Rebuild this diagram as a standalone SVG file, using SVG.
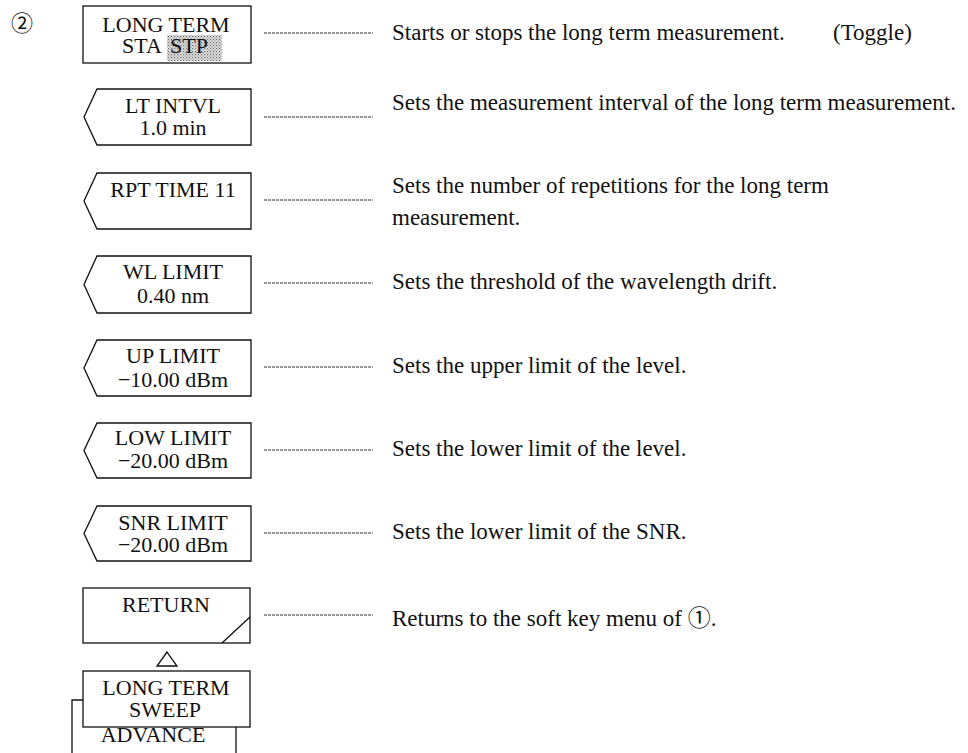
<svg xmlns="http://www.w3.org/2000/svg" width="968" height="753" viewBox="0 0 968 753">
<defs>
<pattern id="dots" width="3" height="3" patternUnits="userSpaceOnUse">
<rect width="3" height="3" fill="#e6e6e6"/>
<rect x="0" y="0" width="1.2" height="1.2" fill="#666"/>
<rect x="1.5" y="1.5" width="1.2" height="1.2" fill="#888"/>
</pattern>
</defs>
<style>
.box{fill:#fff;stroke:#111;stroke-width:1.3}
.t{font-family:"Liberation Serif","Times New Roman",serif;font-size:22px;fill:#111}
.c{text-anchor:middle}
.d{font-family:"Liberation Serif","Times New Roman","Noto Sans CJK JP",serif;font-size:23px;fill:#111}
.ln{stroke:#333;stroke-width:1;stroke-dasharray:3 1;fill:none}
.sl{stroke:#111;stroke-width:1.3;fill:none}
</style>
<rect width="968" height="753" fill="#fff"/>
<text x="22" y="31" text-anchor="middle" style="font-family:'Noto Sans CJK JP',sans-serif;font-size:22px;fill:#111">②</text>

<g id="node-longterm">
<rect class="box" x="83" y="6" width="168" height="57"/>
<rect x="167" y="35" width="55" height="26" fill="url(#dots)"/>
<text class="t c" x="166" y="32">LONG TERM</text>
<text class="t" x="122" y="53">STA</text>
<text class="t" x="170" y="53">STP</text>
</g>
<g id="node-ltintvl">
<path class="box" d="M97,89 H251 V145 H97 L84,117 Z"/>
<text class="t c" x="173" y="113">LT INTVL</text>
<text class="t c" x="173" y="135">1.0 min</text>
</g>
<g id="node-rpttime">
<path class="box" d="M97,173 H251 V229 H97 L84,201 Z"/>
<text class="t c" x="173" y="197">RPT TIME 11</text>
</g>
<g id="node-wllimit">
<path class="box" d="M97,256 H251 V313 H97 L84,284.5 Z"/>
<text class="t c" x="173" y="279">WL LIMIT</text>
<text class="t c" x="173" y="303">0.40 nm</text>
</g>
<g id="node-uplimit">
<path class="box" d="M97,340 H251 V396 H97 L84,368 Z"/>
<text class="t c" x="173" y="363">UP LIMIT</text>
<text class="t c" x="173" y="387">−10.00 dBm</text>
</g>
<g id="node-lowlimit">
<path class="box" d="M97,423 H251 V478 H97 L84,450.5 Z"/>
<text class="t c" x="173" y="445">LOW LIMIT</text>
<text class="t c" x="173" y="468">−20.00 dBm</text>
</g>
<g id="node-snrlimit">
<path class="box" d="M97,506 H251 V561 H97 L84,533.5 Z"/>
<text class="t c" x="173" y="530">SNR LIMIT</text>
<text class="t c" x="173" y="552">−20.00 dBm</text>
</g>
<g id="node-return">
<rect class="box" x="83" y="588" width="167" height="55"/>
<line class="sl" x1="222" y1="643" x2="250" y2="617"/>
<text class="t c" x="166" y="612">RETURN</text>
</g>
<g id="node-sweep">
<path class="sl" d="M72,753 V700 H83"/>
<line class="sl" x1="236" y1="727" x2="236" y2="753"/>
<text class="t c" x="153" y="742">ADVANCE</text>
<rect class="box" x="83" y="671" width="167" height="56"/>
<text class="t c" x="166" y="695">LONG TERM</text>
<text class="t c" x="165" y="717">SWEEP</text>
</g>

<g id="connectors">
<path class="sl" d="M167,652 L157,666 H177 Z"/>
<line class="ln" x1="264" y1="33" x2="373" y2="33"/>
<line class="ln" x1="264" y1="117" x2="373" y2="117"/>
<line class="ln" x1="264" y1="200" x2="373" y2="200"/>
<line class="ln" x1="264" y1="283" x2="373" y2="283"/>
<line class="ln" x1="264" y1="367" x2="373" y2="367"/>
<line class="ln" x1="264" y1="450" x2="373" y2="450"/>
<line class="ln" x1="264" y1="533" x2="373" y2="533"/>
<line class="ln" x1="264" y1="615" x2="373" y2="615"/>
</g>

<g id="descriptions">
<text class="d" x="392" y="40">Starts or stops the long term measurement.</text>
<text class="d" x="833" y="40">(Toggle)</text>
<text class="d" x="392" y="110">Sets the measurement interval of the long term measurement.</text>
<text class="d" x="392" y="193">Sets the number of repetitions for the long term</text>
<text class="d" x="392" y="225">measurement.</text>
<text class="d" x="392" y="289">Sets the threshold of the wavelength drift.</text>
<text class="d" x="392" y="373">Sets the upper limit of the level.</text>
<text class="d" x="392" y="456">Sets the lower limit of the level.</text>
<text class="d" x="392" y="539">Sets the lower limit of the SNR.</text>
<text class="d" x="392" y="626">Returns to the soft key menu of <tspan style="font-family:'Noto Sans CJK JP',sans-serif">①</tspan>.</text>
</g>
</svg>
